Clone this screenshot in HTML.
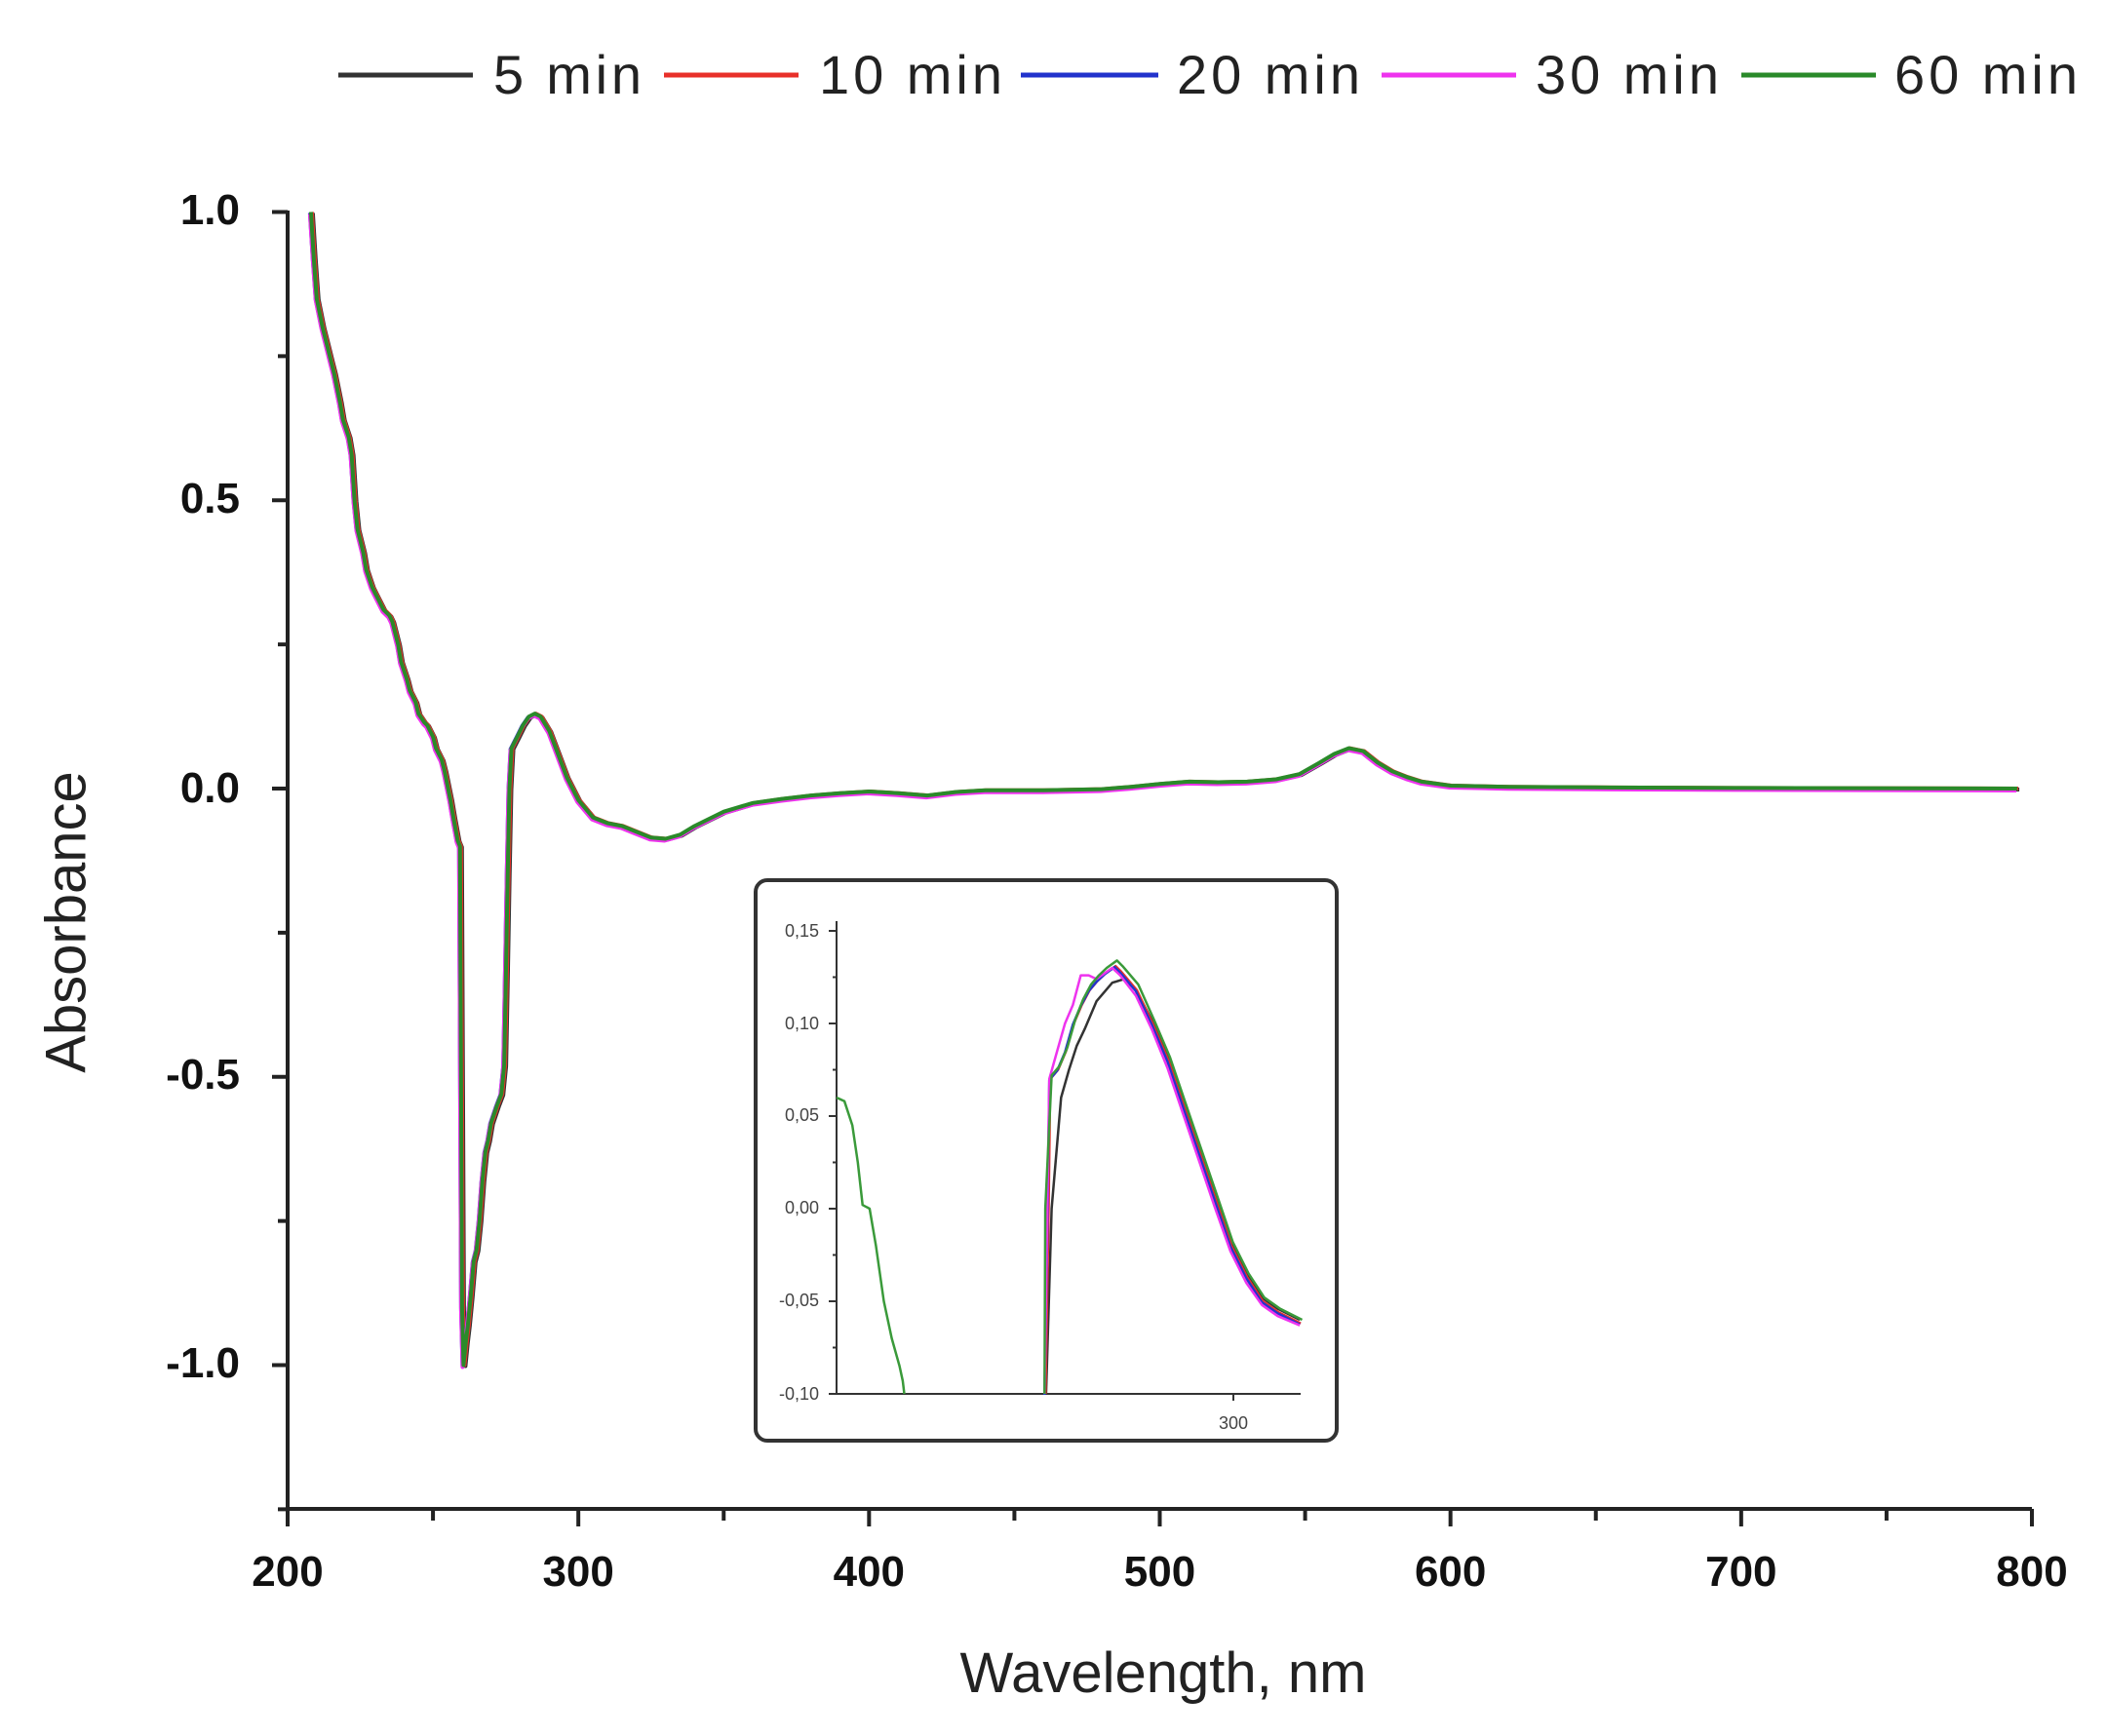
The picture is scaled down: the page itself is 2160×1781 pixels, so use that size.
<!DOCTYPE html>
<html><head><meta charset="utf-8"><style>
html,body{margin:0;padding:0;background:#fff;}
svg{display:block;}
.tk{font-family:"Liberation Sans Narrow","Liberation Sans",sans-serif;font-weight:bold;font-size:44px;fill:#111;}
.lg{font-family:"Liberation Sans",sans-serif;font-size:56px;fill:#222;}
.it{font-family:"Liberation Sans",sans-serif;font-size:18px;fill:#444;}
</style></head><body>
<svg id="s" width="2160" height="1781" viewBox="0 0 2160 1781" xmlns="http://www.w3.org/2000/svg">
<g stroke-width="5">
<line x1="347" y1="77" x2="485" y2="77" stroke="#333"/>
<line x1="681" y1="77" x2="819" y2="77" stroke="#e8302a"/>
<line x1="1047" y1="77" x2="1188" y2="77" stroke="#2233cc"/>
<line x1="1417" y1="77" x2="1555" y2="77" stroke="#ee33ee"/>
<line x1="1786" y1="77" x2="1924" y2="77" stroke="#2a8a2a"/>
</g>
<text class="lg" x="506" y="96" textLength="152">5 min</text>
<text class="lg" x="840" y="96" textLength="188">10 min</text>
<text class="lg" x="1207" y="96" textLength="188">20 min</text>
<text class="lg" x="1575" y="96" textLength="188">30 min</text>
<text class="lg" x="1943" y="96" textLength="188">60 min</text>
<g stroke="#222" stroke-width="4" fill="none" id="ax">
<line x1="295" y1="216" x2="295" y2="1548"/>
<line x1="293" y1="1548" x2="2084" y2="1548"/>
</g>
<g class="tk" text-anchor="end">
<text x="246" y="230">1.0</text>
<text x="246" y="526">0.5</text>
<text x="246" y="823">0.0</text>
<text x="246" y="1117">-0.5</text>
<text x="246" y="1413">-1.0</text>
</g>
<g class="tk" text-anchor="middle" id="xl"></g>
<text x="72" y="946" transform="rotate(-90 72 946)" text-anchor="middle" class="lg" style="font-size:58px" dominant-baseline="middle">Absorbance</text>
<text x="1193" y="1736" text-anchor="middle" class="lg" style="font-size:58px">Wavelength,  nm</text>
<g id="main" fill="none" stroke-width="4" stroke-linejoin="round"></g>
<rect x="775" y="903" width="596" height="575" rx="12" ry="12" fill="#fff" stroke="#333" stroke-width="4"/>
<g stroke="#333" stroke-width="2" fill="none">
<line x1="858" y1="945" x2="858" y2="1430"/>
<line x1="856" y1="1430" x2="1334" y2="1430"/>
<line x1="1265" y1="1430" x2="1265" y2="1437"/>
</g>
<g id="iticks" stroke="#333" stroke-width="2"></g>
<g class="it" text-anchor="end">
<text x="840" y="961">0,15</text>
<text x="840" y="1056">0,10</text>
<text x="840" y="1150">0,05</text>
<text x="840" y="1245">0,00</text>
<text x="840" y="1340">-0,05</text>
<text x="840" y="1436">-0,10</text>
</g>
<text class="it" x="1265" y="1466" text-anchor="middle">300</text>
<g id="ins" fill="none" stroke-width="2.5" stroke-linejoin="round"></g>
</svg>
<script>
var NS="http://www.w3.org/2000/svg";
function el(p,t,a){var e=document.createElementNS(NS,t);for(var k in a)e.setAttribute(k,a[k]);p.appendChild(e);return e;}
var ax=document.getElementById("ax");
function X(w){return 295+(w-200)*1789/600;}
function Y(a){return 809-a*591.5;}
var xl=document.getElementById("xl");
for(var w=200;w<=800;w+=50){var maj=w%100==0;el(ax,"line",{x1:X(w),y1:1548,x2:X(w),y2:1548+(maj?18:12)});
if(maj){var t=el(xl,"text",{x:X(w),y:1627});t.textContent=w;}}
for(var a=-1.25;a<=1.001;a+=0.25){var maj=Math.abs(a*2-Math.round(a*2))<1e-6;el(ax,"line",{x1:295,y1:Y(a),x2:295-(maj?16:10),y2:Y(a)});}
var d=[[208,1],[209,0.92],[210,0.85],[212,0.8],[213,0.78],[215,0.74],[216,0.72],[218,0.67],[219,0.64],[221,0.61],[222,0.58],[223,0.5],[224,0.45],[226,0.41],[227,0.38],[229,0.35],[230,0.34],[232,0.32],[233,0.31],[235,0.3],[236,0.29],[238,0.25],[239,0.22],[241,0.19],[242,0.17],[244,0.15],[245,0.13],[247,0.115],[248,0.11],[250,0.09],[251,0.07],[253,0.05],[254,0.03],[256,-0.02],[257,-0.05],[258.5,-0.09],[259.3,-0.10],[260,-0.9],[260.5,-1.0],[261.3,-0.96],[262,-0.93],[263,-0.88],[264,-0.82],[265,-0.8],[266,-0.75],[267,-0.68],[268,-0.63],[269,-0.61],[270,-0.58],[272,-0.55],[273.5,-0.53],[274.5,-0.48],[275,-0.35],[275.7,-0.15],[276.3,0.0],[277,0.07],[278,0.08],[279,0.09],[281,0.11],[283,0.125],[285,0.13],[287,0.125],[290,0.1],[293,0.06],[296,0.02],[300,-0.02],[305,-0.05],[310,-0.06],[315,-0.065],[320,-0.075],[325,-0.085],[330,-0.087],[335,-0.08],[340,-0.065],[350,-0.04],[360,-0.025],[370,-0.018],[380,-0.012],[390,-0.008],[400,-0.005],[410,-0.008],[420,-0.012],[430,-0.006],[440,-0.003],[460,-0.003],[480,-0.001],[490,0.003],[500,0.008],[510,0.012],[520,0.011],[530,0.012],[540,0.016],[548,0.025],[555,0.045],[560,0.06],[565,0.07],[570,0.065],[575,0.045],[580,0.03],[585,0.02],[590,0.012],[600,0.005],[620,0.003],[650,0.002],[700,0.001],[795,0]];
function path(pts,fx,fy,dx,dy){var s="";for(var i=0;i<pts.length;i++){s+=(i?"L":"M")+(fx(pts[i][0])+dx).toFixed(1)+" "+(fy(pts[i][1])+dy).toFixed(1);}return s;}
var main=document.getElementById("main");
var cols=["#333","#e8302a","#2233cc","#ee33ee","#2a8a2a"];
var off=[[2,1],[1,0],[-1,1],[-1,2],[0,0]];
for(var i=0;i<5;i++){el(main,"path",{d:path(d,X,Y,off[i][0],off[i][1]),stroke:cols[i]});}
function IX(w){return 858+(w-250)*8.08;}
function IY(a){return 1430-(a+0.10)*1900;}
var it=document.getElementById("iticks");
for(var k=0;k<=10;k++){var a=-0.10+k*0.025;var maj=k%2==0;el(it,"line",{x1:858,y1:IY(a),x2:858-(maj?8:4),y2:IY(a)});}
var ins=document.getElementById("ins");
var g=[[250,0.06],[251,0.058],[252,0.045],[252.7,0.025],[253.3,0.002],[254.2,0.0],[255,-0.02],[256,-0.05],[257,-0.07],[258,-0.085],[258.4,-0.093],[258.6,-0.10]];
el(ins,"path",{d:path(g,IX,IY,0,0),stroke:"#3a9a3a"});
var c=[[276.4,-0.1],[276.8,0.0],[277,0.07],[278,0.075],[279,0.085],[280,0.1],[281,0.11],[282,0.118],[283,0.123],[284,0.127],[285.3,0.131],[286,0.128],[288,0.118],[290,0.1],[292,0.08],[294,0.055],[296,0.03],[298,0.005],[300,-0.02],[302,-0.037],[304,-0.05],[306,-0.056],[308.8,-0.062]];
var cb=[[276.6,-0.1],[277.3,0.0],[278.5,0.06],[279.5,0.075],[280.5,0.088],[281.5,0.097],[283,0.112],[285,0.122],[286.5,0.124],[288,0.118],[290,0.102],[292,0.083],[294,0.058],[296,0.033],[298,0.008],[300,-0.017],[302,-0.035],[304,-0.048],[306,-0.054],[308.8,-0.06]];
var cm=[[276.4,-0.1],[277,0.07],[278,0.085],[279,0.1],[280,0.11],[281,0.126],[282,0.126],[283,0.124],[285,0.13],[286,0.126],[288,0.115],[290,0.097],[292,0.076],[294,0.051],[296,0.026],[298,0.001],[300,-0.023],[302,-0.04],[304,-0.052],[306,-0.058],[308.8,-0.063]];
el(ins,"path",{d:path(cb,IX,IY,0,0),stroke:"#333"});
el(ins,"path",{d:path(c,IX,IY,1,0),stroke:"#e8302a"});
el(ins,"path",{d:path(c,IX,IY,0,1),stroke:"#2233cc"});
el(ins,"path",{d:path(cm,IX,IY,0,0),stroke:"#ee33ee"});
var cg=c.map(function(p){return [p[0]+0.3,p[1]+(p[1]>0.1?0.003:0.002)];});cg[0]=[276.4,-0.1];cg[1]=[276.5,0.0];
el(ins,"path",{d:path(cg,IX,IY,0,0),stroke:"#3a9a3a"});
</script>
</body></html>
